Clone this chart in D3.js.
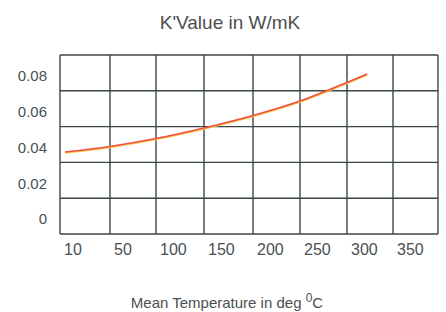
<!DOCTYPE html>
<html>
<head>
<meta charset="utf-8">
<script src="https://cdn.jsdelivr.net/npm/d3@7"></script>
<style>
  body { margin: 0; background: #fff; }
  text { font-family: "Liberation Sans", Arial, sans-serif; fill: #4a4f52; }
</style>
</head>
<body>
<div id="chart"></div>
<script>
var svgWidth = 446;
var svgHeight = 312;

// tick labels
var xTicks = [10, 50, 100, 150, 200, 250, 300, 350];
var yTicks = [0, 0.02, 0.04, 0.06, 0.08];

// curve
var temps = [14, 50, 100, 150, 200, 250, 288, 322];
var kValues = [0.0375, 0.0406, 0.0450, 0.0509, 0.0579, 0.0660, 0.0738, 0.0811];

var frame = { left: 60, right: 438, top: 55, bottom: 234 };

var svg = d3.select("#chart")
  .append("svg")
  .attr("width", svgWidth)
  .attr("height", svgHeight);

// uneven columns, one per tick label
var xScale = d3.scaleLinear()
  .domain(xTicks.concat([400]))
  .range([60, 110, 156, 204, 253, 300, 347, 393, 438]);

var yScale = d3.scaleLinear()
  .domain([0, 0.08])
  .range([219, 76]);

var grid = svg.append("g")
  .attr("stroke", "#3b4646")
  .attr("stroke-width", 1.4)
  .attr("fill", "none");

// horizontal lines: 5 rows in the frame
grid.selectAll("line.h")
  .data(d3.range(6))
  .enter()
  .append("line")
  .attr("x1", frame.left)
  .attr("x2", frame.right)
  .attr("y1", i => frame.top + i * (frame.bottom - frame.top) / 5)
  .attr("y2", i => frame.top + i * (frame.bottom - frame.top) / 5);

grid.selectAll("line.v")
  .data(xTicks.concat([400]))
  .enter()
  .append("line")
  .attr("x1", d => xScale(d))
  .attr("x2", d => xScale(d))
  .attr("y1", frame.top)
  .attr("y2", frame.bottom);

// curve
var line = d3.line()
  .x((d, i) => xScale(temps[i]))
  .y(d => yScale(d))
  .curve(d3.curveMonotoneX);

svg.append("path")
  .datum(kValues)
  .attr("d", line)
  .attr("fill", "none")
  .attr("stroke", "#f7c94a")
  .attr("stroke-width", 2)
  .attr("transform", "translate(0,0.8)");

svg.append("path")
  .datum(kValues)
  .attr("d", line)
  .attr("fill", "none")
  .attr("stroke", "#ef4f48")
  .attr("stroke-width", 1.6);

// y labels
svg.append("g").selectAll("text")
  .data(yTicks)
  .enter()
  .append("text")
  .attr("x", 47)
  .attr("y", d => yScale(d))
  .attr("dy", "0.35em")
  .attr("text-anchor", "end")
  .style("font-size", "15px")
  .text(d => d === 0 ? "0" : d.toFixed(2));

// x labels, left of each column
svg.append("g").selectAll("text")
  .data(xTicks)
  .enter()
  .append("text")
  .attr("x", d => xScale(d) + 4)
  .attr("y", 255)
  .style("font-size", "16px")
  .text(d => d);

svg.append("text")
  .attr("x", 230)
  .attr("y", 29)
  .attr("text-anchor", "middle")
  .style("font-size", "19px")
  .text("K'Value in W/mK");

var xLabel = svg.append("text")
  .attr("x", 227)
  .attr("y", 308)
  .attr("text-anchor", "middle")
  .style("font-size", "15px");
xLabel.append("tspan").text("Mean Temperature in deg ");
xLabel.append("tspan").attr("dy", -6).style("font-size", "12px").text("0");
xLabel.append("tspan").attr("dy", 6).text("C");
</script>
</body>
</html>
